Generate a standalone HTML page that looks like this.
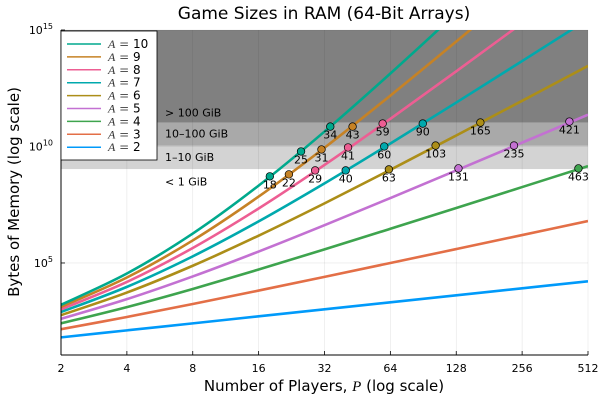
<!DOCTYPE html>
<html><head><meta charset="utf-8"><style>
html,body{margin:0;padding:0;background:#fff;}
svg{display:block;font-family:"DejaVu Sans","Liberation Sans",sans-serif;}
</style></head><body>
<svg id="chart" width="600" height="400" viewBox="0 0 600 400" xmlns="http://www.w3.org/2000/svg">
<defs><clipPath id="plotclip"><rect x="61" y="30" width="527" height="325"/></clipPath></defs>
<rect width="600" height="400" fill="#fff"/>
<text x="324" y="19" font-size="17" text-anchor="middle" fill="#000">Game Sizes in RAM (64-Bit Arrays)</text>
<g id="bands"></g>
<g id="grid"></g>
<g id="series" clip-path="url(#plotclip)"></g>
<g id="points"></g>
<g id="axes"></g>
<g id="legend"></g>
</svg>
<script>
const xTickValues = [2,4,8,16,32,64,128,256,512];
const xTickLabels = ["2","4","8","16","32","64","128","256","512"];
const yTickExps = [5,10,15];
const samplePlayers = [2,4,8,16,32,64,128,256,512];
const seriesNames = ["A2","A3","A4","A5","A6","A7","A8","A9","A10"];
const seriesA = [2,3,4,5,6,7,8,9,10];
const logBytesA2 = [1.806,2.107,2.408,2.709,3.010,3.311,3.612,3.913,4.214];
const logBytesA3 = [2.158,2.681,3.238,3.815,4.404,4.999,5.598,6.198,6.800];
const logBytesA4 = [2.408,3.107,3.885,4.718,5.583,6.467,7.360,8.258,9.158];
const logBytesA5 = [2.602,3.447,4.422,5.491,6.622,7.788,8.972,10.166,11.365];
const logBytesA6 = [2.760,3.730,4.881,6.173,7.559,9.000,10.473,11.961,13.458];
const logBytesA7 = [2.894,3.974,5.284,6.784,8.416,10.128,11.885,13.667,15.46];
const logBytesA8 = [3.010,4.186,5.643,7.339,9.208,11.186,13.225,15.298,17.39];
const logBytesA9 = [3.113,4.376,5.967,7.849,9.947,12.185,14.504,16.866,19.25];
const logBytesA10 = [3.204,4.547,6.263,8.321,10.641,13.134,15.729,18.4,21.1];
const markerA = [10,10,10,9,9,9,8,8,8,7,7,7,6,6,6,5,5,5,4];
const markerP = [18,25,34,22,31,43,29,41,59,40,60,90,63,103,165,131,235,421,463];
const markerLog = [8.718,9.786,10.855,8.803,9.872,10.855,8.974,9.957,10.983,8.974,10.0,10.983,9.017,10.04,11.026,9.06,10.04,11.068,9.06];
const bandLogEdges = [9.031,10.031,11.031,15];
const bandLabels = ["< 1 GiB","1–10 GiB","10–100 GiB","> 100 GiB"];

const colors = {2:"#009AFA",3:"#E36F47",4:"#3EA44E",5:"#C371D2",6:"#AC8E18",7:"#00A9AD",8:"#ED5E93",9:"#C68225",10:"#00A98D"};
const data = [logBytesA2,logBytesA3,logBytesA4,logBytesA5,logBytesA6,logBytesA7,logBytesA8,logBytesA9,logBytesA10];
const L=61,R=588,T=30,B=355, yMin=1.05, yMax=15;
const xs = p => L + (Math.log2(p)-1)/8*(R-L);
const ys = v => B - (v-yMin)/(yMax-yMin)*(B-T);
const NS="http://www.w3.org/2000/svg";
function mk(tag, attrs, parent, txt){const e=document.createElementNS(NS,tag);for(const k in attrs)e.setAttribute(k,attrs[k]);if(txt!==undefined)e.textContent=txt;parent.appendChild(e);return e;}
const gBands=document.getElementById('bands'),gGrid=document.getElementById('grid'),gSer=document.getElementById('series'),gPts=document.getElementById('points'),gAx=document.getElementById('axes'),gLeg=document.getElementById('legend');

const bandFills=["#d3d3d3","#a9a9a9","#808080"];
for(let i=0;i<3;i++){
  const y1=ys(bandLogEdges[i+1]), y0=ys(bandLogEdges[i]);
  const r=mk('rect',{x:L,y:y1,width:R-L,height:y0-y1,fill:bandFills[i]},gBands);
  
  
}
const bandLabelLog=[8.5,9.55,10.55,11.45];
bandLabels.forEach((t,i)=>{
  const e=mk('text',{x:165,y:ys(bandLabelLog[i])+4,'font-size':11,fill:'#000'},gBands,t);
  
  
});
xTickValues.forEach(v=>{mk('line',{x1:xs(v),x2:xs(v),y1:T,y2:B,stroke:'#000','stroke-opacity':0.1,'stroke-width':0.6},gGrid);});
yTickExps.forEach(v=>{mk('line',{x1:L,x2:R,y1:ys(v),y2:ys(v),stroke:'#000','stroke-opacity':0.1,'stroke-width':0.6},gGrid);});
function crPath(pts){
  let d=`M${pts[0][0]},${pts[0][1]}`;
  for(let i=0;i<pts.length-1;i++){
    const p0=pts[Math.max(0,i-1)],p1=pts[i],p2=pts[i+1],p3=pts[Math.min(pts.length-1,i+2)];
    const c1x=p1[0]+(p2[0]-p0[0])/6,c1y=p1[1]+(p2[1]-p0[1])/6;
    const c2x=p2[0]-(p3[0]-p1[0])/6,c2y=p2[1]-(p3[1]-p1[1])/6;
    d+=` C${c1x},${c1y} ${c2x},${c2y} ${p2[0]},${p2[1]}`;
  }
  return d;
}
data.forEach((arr,i)=>{
  const pts=arr.map((v,j)=>[xs(samplePlayers[j]),ys(v)]);
  const p=mk('path',{d:crPath(pts),fill:'none',stroke:colors[seriesA[i]],'stroke-width':2.6,'stroke-linejoin':'round'},gSer);
  
  
});
markerP.forEach((p,i)=>{
  const cx=xs(p),cy=ys(markerLog[i]);
  const c=mk('circle',{cx:cx,cy:cy,r:3.8,fill:colors[markerA[i]],stroke:'#000','stroke-width':0.7},gPts);
  
  
  const t=mk('text',{x:cx,y:cy+12,'font-size':11,'text-anchor':'middle',fill:'#000'},gPts,String(p));
  
  
});
mk('line',{x1:L,x2:L,y1:T,y2:B,stroke:'#000','stroke-width':1},gAx);
mk('line',{x1:L,x2:R,y1:B,y2:B,stroke:'#000','stroke-width':1},gAx);
xTickValues.forEach((v,i)=>{
  mk('line',{x1:xs(v),x2:xs(v),y1:B,y2:B-4,stroke:'#000','stroke-width':0.8},gAx);
  const t=mk('text',{x:xs(v),y:372,'font-size':11,'text-anchor':'middle',fill:'#000'},gAx,xTickLabels[i]);
  
  
});
yTickExps.forEach(v=>{
  mk('line',{x1:L,x2:L+4,y1:ys(v),y2:ys(v),stroke:'#000','stroke-width':0.8},gAx);
  const t=mk('text',{x:53,y:ys(v)+4,'font-size':11,'text-anchor':'end',fill:'#000'},gAx);
  
  
  mk('tspan',{},t,'10');
  mk('tspan',{dy:-5,'font-size':8},t,String(v));
});
const xt=mk('text',{x:324,y:391,'font-size':15,'text-anchor':'middle',fill:'#000'},gAx);


mk('tspan',{},xt,'Number of Players, ');
mk('tspan',{'font-family':'Liberation Serif, serif','font-style':'italic'},xt,'P');
mk('tspan',{},xt,' (log scale)');
const yt=mk('text',{x:0,y:0,'font-size':15,'text-anchor':'middle',fill:'#000',transform:'translate(19,192) rotate(-90)'},gAx,'Bytes of Memory (log scale)');


const lb=mk('rect',{x:61,y:31,width:96,height:129,fill:'#fff',stroke:'#000','stroke-width':0.8},gLeg);


const legendOrder=[10,9,8,7,6,5,4,3,2];
legendOrder.forEach((a,i)=>{
  const y=44+i*12.9;
  const g=mk('g',{},gLeg);
  
  
  mk('line',{x1:67,x2:101,y1:y,y2:y,stroke:colors[a],'stroke-width':1.5},g);
  const t=mk('text',{x:108,y:y+4,'font-size':12,fill:'#000'},g);
  mk('tspan',{'font-family':'Liberation Serif, serif','font-style':'italic','fill':'#333'},t,'A');
  mk('tspan',{'fill':'#555'},t,' = ');
  mk('tspan',{},t,String(a));
});
</script>
</body></html>
